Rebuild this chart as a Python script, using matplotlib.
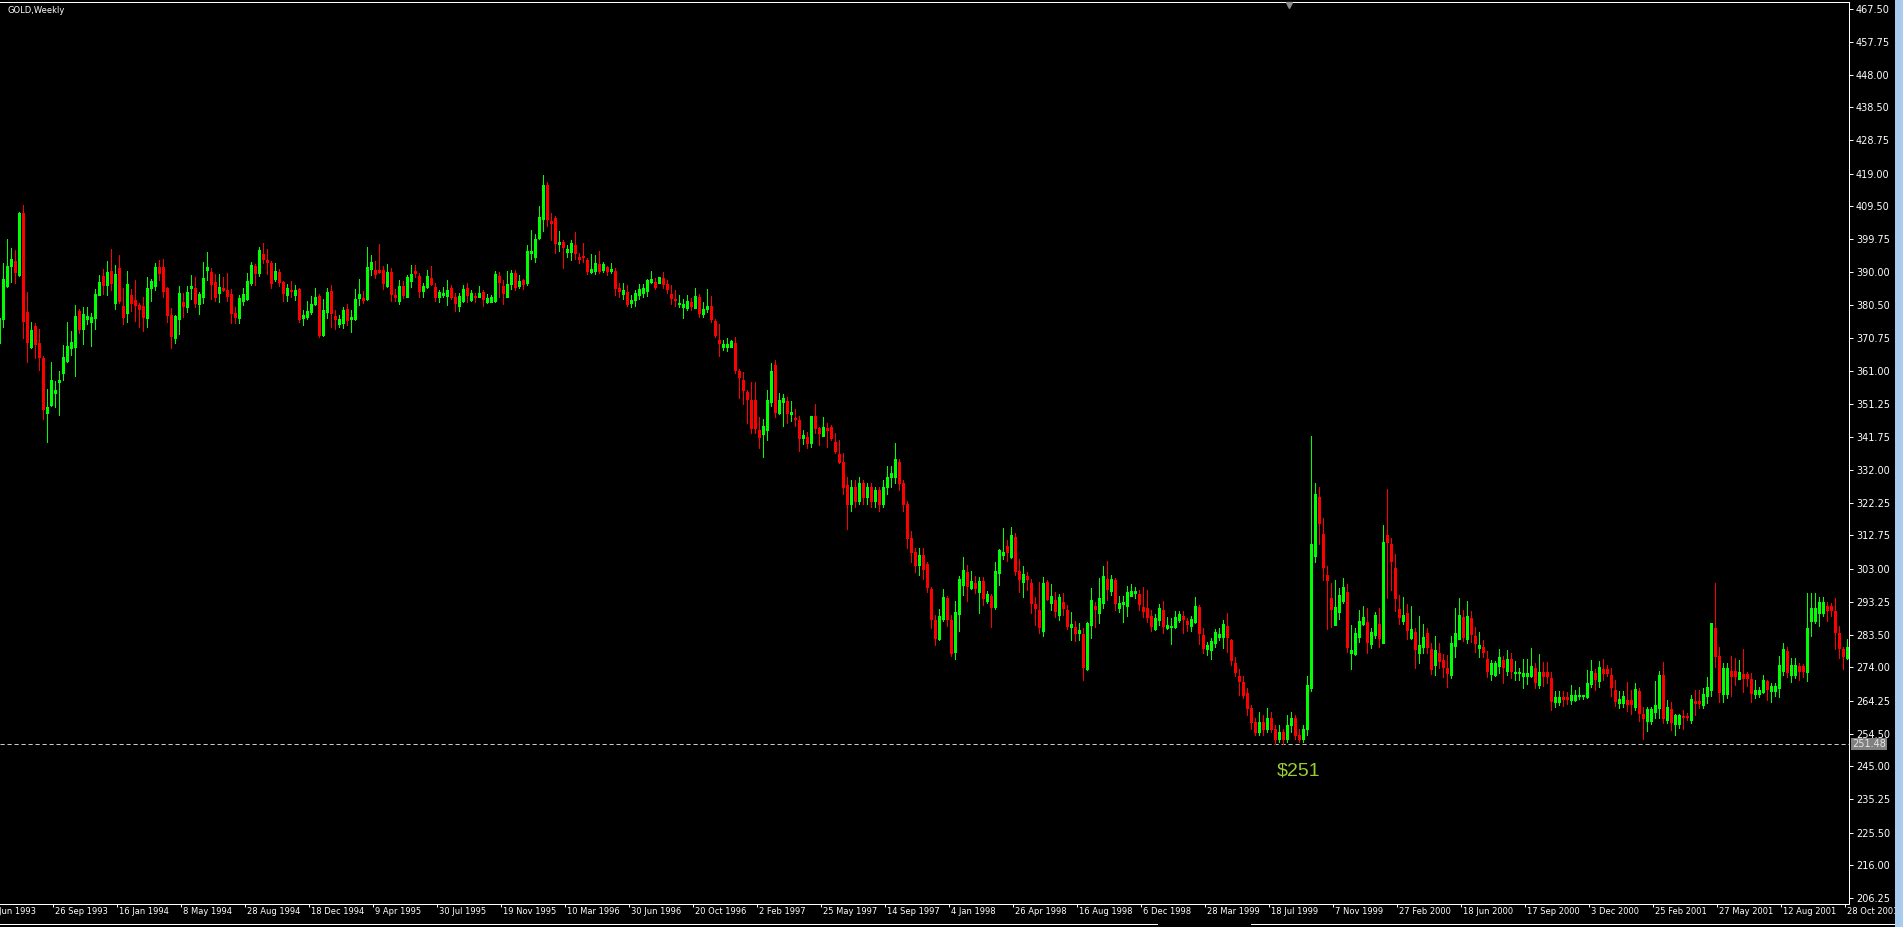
import numpy as np
import matplotlib
matplotlib.use("Agg")
import matplotlib.pyplot as plt
from matplotlib.lines import Line2D
from matplotlib.patches import Rectangle
import matplotlib.transforms as mtransforms

# Weekly GOLD bars, (open, high, low, close), left to right.
block1 = [
    (369.4, 378.0, 367.0, 376.5),
    (376.4, 392.7, 373.9, 388.0), (386.1, 399.8, 385.8, 391.8), (392.0, 397.1, 387.3, 393.8),
    (393.2, 396.6, 387.0, 390.0), (389.2, 407.6, 388.9, 407.3), (407.3, 409.8, 370.8, 375.8),
    (378.3, 384.2, 363.8, 369.7), (368.0, 375.3, 367.9, 373.0), (374.3, 375.1, 365.0, 368.9),
    (369.2, 373.4, 361.3, 365.2), (364.8, 365.4, 346.8, 349.8), (348.8, 355.8, 340.3, 350.4),
    (351.1, 363.7, 350.8, 358.4), (354.7, 358.2, 350.4, 355.5), (357.9, 361.1, 348.1, 358.5),
    (360.4, 368.7, 358.4, 365.1), (364.0, 375.4, 363.8, 368.4), (367.9, 372.8, 365.7, 369.5),
    (368.2, 380.4, 359.6, 377.2), (378.6, 379.2, 372.3, 373.3), (373.3, 379.7, 369.0, 377.8),
    (376.4, 379.8, 374.8, 377.2), (375.5, 378.0, 368.4, 376.8), (376.7, 385.1, 373.5, 383.7),
    (383.5, 389.2, 383.4, 387.1), (388.9, 391.0, 383.7, 386.2), (386.3, 393.3, 383.4, 390.0),
    (390.3, 396.9, 384.9, 387.0), (381.0, 392.2, 379.2, 389.5), (391.2, 395.0, 381.0, 381.7),
    (380.1, 385.3, 374.8, 377.0), (378.2, 390.4, 375.4, 386.5), (383.3, 385.1, 378.8, 381.0),
    (381.8, 387.8, 375.7, 380.3), (380.4, 381.1, 374.1, 379.2), (380.1, 382.9, 372.8, 377.0),
    (376.7, 388.6, 374.1, 385.4), (385.5, 388.1, 381.6, 387.5), (386.1, 392.7, 384.8, 391.5),
    (391.5, 393.6, 387.8, 389.7), (391.5, 393.9, 382.9, 384.6), (385.3, 385.6, 375.4, 377.6),
    (377.4, 379.4, 367.9, 371.4), (370.8, 377.4, 369.4, 377.2), (376.4, 386.0, 371.9, 383.8),
    (381.2, 383.8, 376.9, 380.2), (379.9, 386.0, 378.4, 384.1), (385.4, 389.1, 382.1, 386.0),
    (385.3, 388.5, 379.7, 380.9), (380.8, 384.2, 377.8, 383.6), (382.9, 393.0, 381.1, 388.3),
    (390.8, 395.9, 387.8, 391.5), (390.0, 391.4, 382.2, 386.5), (387.1, 389.4, 381.5, 382.9),
    (384.0, 389.4, 381.4, 385.6), (385.4, 388.5, 384.6, 384.7), (384.9, 389.7, 381.7, 383.2),
    (383.6, 385.1, 375.0, 378.0),
]
block2 = [
    (378.0, 379.7, 375.2, 376.8), (376.7, 383.4, 375.2, 382.4), (381.6, 385.3, 380.4, 383.7),
    (382.2, 389.7, 381.9, 387.5), (386.8, 393.0, 386.3, 392.2), (391.9, 392.4, 386.3, 389.7),
    (389.9, 397.4, 388.8, 396.6), (395.4, 398.5, 392.7, 393.9), (393.6, 396.8, 389.4, 393.1),
    (392.7, 393.4, 385.3, 387.0), (388.1, 392.7, 387.5, 390.4), (390.0, 390.9, 386.0, 387.3),
    (387.1, 387.5, 381.6, 383.9), (383.4, 386.5, 381.6, 385.3), (384.8, 387.5, 382.9, 384.6),
    (383.4, 386.3, 381.9, 384.8), (385.0, 385.5, 375.5, 376.2), (376.7, 379.0, 374.5, 377.5),
    (376.9, 381.6, 376.2, 378.7), (378.5, 383.1, 377.7, 380.7), (380.6, 385.3, 380.4, 382.7),
    (383.1, 383.7, 370.9, 371.6), (371.6, 382.2, 371.3, 379.0), (378.5, 385.3, 376.5, 384.2),
    (384.4, 386.3, 373.9, 378.2), (377.3, 379.0, 373.3, 376.2), (374.8, 377.5, 374.1, 376.2),
    (375.2, 379.7, 373.6, 379.0), (379.2, 380.7, 374.5, 376.0), (376.2, 379.0, 372.6, 376.9),
    (376.3, 385.1, 376.0, 382.2), (382.6, 388.1, 380.4, 383.6), (382.6, 384.5, 380.9, 381.9),
    (382.1, 397.4, 381.9, 391.6), (391.1, 395.1, 389.2, 393.1), (390.6, 393.2, 388.3, 389.4),
    (390.7, 398.3, 389.9, 390.2), (390.6, 392.0, 385.0, 387.0), (386.1, 392.5, 385.8, 390.0),
    (390.0, 391.2, 381.6, 383.6), (383.4, 385.0, 381.6, 382.9), (381.7, 387.8, 380.7, 386.0),
    (386.0, 387.5, 382.6, 383.4), (382.9, 389.2, 382.7, 388.6), (387.6, 392.2, 385.8, 389.5),
    (390.4, 392.2, 388.6, 389.7), (389.0, 389.9, 382.9, 384.4), (384.4, 386.8, 382.7, 386.0),
    (385.6, 390.7, 385.3, 389.0), (388.3, 391.9, 386.3, 386.5), (385.6, 386.8, 381.6, 382.9),
    (382.9, 384.8, 381.2, 384.1), (383.4, 385.8, 382.7, 383.9), (383.1, 387.8, 380.4, 384.8),
    (385.3, 386.3, 382.2, 382.9), (382.7, 383.9, 378.8, 380.9), (380.2, 383.9, 378.8, 383.1),
    (381.6, 386.3, 381.4, 385.1),
]
block3 = [
    (385.3, 386.8, 381.4, 383.4), (381.9, 384.8, 381.7, 383.8), (383.1, 383.9, 381.4, 382.9),
    (382.9, 386.0, 382.7, 383.8), (384.1, 384.8, 380.2, 382.1), (381.4, 383.6, 381.1, 382.4),
    (381.4, 383.4, 381.4, 382.7), (381.7, 390.4, 381.4, 389.4), (388.8, 390.0, 382.9, 387.3),
    (386.1, 387.8, 380.7, 383.9), (382.9, 390.4, 382.9, 386.5), (386.5, 390.7, 385.1, 389.9),
    (389.7, 390.7, 384.8, 385.8), (386.1, 389.2, 385.3, 387.5), (387.8, 388.2, 385.1, 386.5),
    (386.8, 398.0, 386.3, 396.3), (395.6, 402.4, 393.8, 396.3), (394.6, 401.3, 393.1, 399.7),
    (400.2, 409.5, 399.7, 406.2), (405.7, 418.6, 402.3, 415.7), (415.7, 416.4, 403.7, 405.7),
    (405.2, 407.3, 399.5, 404.6), (406.0, 406.6, 395.6, 398.5), (398.3, 402.2, 396.4, 399.0),
    (398.9, 399.5, 391.2, 397.4), (396.1, 398.0, 394.6, 396.8), (396.1, 399.5, 393.6, 398.5),
    (397.9, 401.8, 393.8, 395.6), (394.6, 395.8, 392.7, 393.8), (394.9, 398.5, 393.1, 394.6),
    (393.6, 394.1, 389.5, 390.5), (390.2, 395.3, 389.7, 391.0), (390.4, 395.1, 389.5, 392.7),
    (392.6, 396.3, 389.9, 390.5), (390.7, 393.1, 390.2, 392.4), (391.5, 391.9, 389.2, 390.4),
    (390.4, 392.7, 389.7, 391.1), (390.4, 391.2, 383.4, 385.5), (385.5, 386.8, 382.9, 384.5),
    (383.7, 386.8, 382.1, 384.8), (384.2, 386.3, 380.1, 380.6), (380.9, 383.4, 379.9, 381.9),
    (381.9, 384.8, 380.2, 383.8), (383.4, 386.5, 382.2, 385.1), (383.8, 386.5, 382.9, 385.3),
    (384.5, 388.1, 383.2, 387.8), (387.2, 390.4, 387.0, 388.0), (387.3, 388.3, 385.1, 385.6),
    (387.0, 388.7, 386.8, 388.5), (388.3, 390.0, 385.3, 386.6), (386.5, 387.8, 384.0, 385.1),
    (383.7, 386.3, 380.7, 382.6), (382.1, 384.8, 380.2, 381.9), (380.7, 383.5, 379.9, 381.1),
    (379.7, 382.1, 376.7, 380.7), (379.4, 383.4, 379.1, 381.6), (381.2, 382.4, 378.9, 380.1),
    (379.4, 385.3, 379.4, 383.1),
]
block4 = [
    (382.7, 383.6, 376.8, 378.0), (377.7, 381.3, 377.0, 379.2), (379.3, 385.1, 378.5, 380.1),
    (380.1, 383.1, 375.3, 376.2), (375.7, 376.2, 371.1, 371.6), (370.1, 374.8, 365.5, 369.2),
    (368.0, 370.1, 367.2, 369.0), (368.0, 370.6, 367.0, 369.0), (368.2, 370.1, 368.0, 369.9),
    (369.2, 370.9, 360.4, 361.3), (361.0, 361.6, 353.0, 359.2), (358.4, 360.8, 351.4, 355.6),
    (355.0, 355.6, 345.9, 352.7), (352.5, 357.9, 342.9, 344.2), (352.5, 357.9, 342.9, 344.2),
    (343.7, 347.4, 338.5, 341.7), (342.4, 346.9, 335.9, 344.9), (343.7, 355.5, 340.8, 352.5),
    (352.0, 363.5, 350.9, 361.0), (362.7, 364.3, 347.6, 349.1), (348.8, 354.7, 348.4, 352.5),
    (352.0, 354.2, 345.0, 353.0), (352.2, 353.3, 345.7, 348.8), (348.4, 352.2, 346.4, 349.1),
    (347.3, 349.9, 345.0, 346.9), (346.6, 347.8, 337.4, 341.5), (341.3, 343.7, 339.6, 342.2),
    (341.8, 343.0, 338.3, 339.8), (339.8, 347.8, 338.8, 347.8), (347.8, 351.3, 342.9, 344.2),
    (344.2, 344.7, 339.3, 342.7), (342.0, 347.4, 342.0, 344.7), (344.2, 345.7, 338.8, 343.7),
    (344.5, 345.2, 340.8, 341.3), (340.3, 342.7, 336.9, 337.6), (336.6, 340.8, 333.9, 334.4),
    (334.4, 336.9, 325.0, 327.0), (327.5, 330.0, 314.5, 322.0), (322.0, 329.0, 320.0, 327.0),
    (327.0, 329.0, 321.0, 323.0), (323.0, 330.0, 322.0, 328.0), (328.0, 329.0, 322.0, 324.0),
    (324.0, 328.0, 322.0, 327.0), (327.0, 328.0, 321.0, 323.0), (323.0, 327.0, 321.0, 326.0),
    (326.0, 327.0, 320.0, 322.0), (322.0, 329.0, 321.0, 327.0), (327.0, 333.0, 325.0, 330.0),
    (330.0, 333.0, 327.0, 331.0), (330.0, 340.0, 328.0, 335.2), (334.4, 335.2, 326.0, 328.0),
    (328.0, 329.0, 320.0, 322.0), (322.0, 323.0, 309.0, 312.0), (312.0, 314.0, 305.0, 308.0),
    (308.0, 309.0, 302.0, 304.0), (304.0, 309.0, 301.0, 307.0), (307.0, 309.0, 300.0, 303.0),
    (304.4, 305.0, 296.0, 297.5),
]
block5 = [
    (297.0, 297.7, 285.5, 288.2), (287.9, 289.4, 280.6, 282.7), (282.3, 291.0, 282.0, 289.1),
    (288.2, 297.0, 287.6, 294.6), (294.3, 294.9, 286.2, 288.2), (287.9, 289.4, 277.3, 278.3),
    (278.6, 293.5, 276.5, 290.2), (289.7, 300.8, 284.7, 300.0), (298.2, 306.5, 295.2, 302.6),
    (301.9, 304.0, 293.5, 298.0), (297.4, 302.3, 297.0, 299.4), (298.7, 300.8, 295.7, 297.2),
    (296.2, 300.4, 290.0, 299.4), (299.4, 300.4, 292.3, 294.5), (293.5, 296.5, 292.8, 295.6),
    (295.0, 295.6, 286.0, 291.8), (291.8, 304.8, 291.1, 302.3), (301.8, 308.8, 298.2, 308.5),
    (307.0, 315.0, 305.7, 307.8), (309.6, 311.4, 305.3, 307.8), (306.5, 315.3, 306.2, 312.9),
    (312.2, 313.6, 301.2, 302.3), (302.3, 305.7, 296.2, 299.9), (299.2, 303.8, 294.7, 301.4),
    (300.8, 301.9, 296.7, 299.9), (298.7, 299.9, 290.1, 293.0), (292.6, 294.6, 286.4, 291.5),
    (290.8, 299.0, 284.2, 286.0), (284.8, 300.4, 283.2, 298.7), (299.0, 299.7, 293.8, 294.0),
    (292.8, 298.4, 290.9, 295.0), (293.8, 296.0, 288.9, 290.7), (289.4, 295.5, 287.9, 294.6),
    (293.1, 295.7, 289.4, 291.3), (290.8, 292.3, 285.3, 286.2), (286.0, 290.4, 282.0, 286.7),
    (285.8, 287.6, 281.6, 284.0), (284.0, 286.9, 281.9, 285.0), (283.7, 285.5, 270.3, 274.2),
    (273.5, 287.4, 273.2, 286.9), (286.4, 297.2, 282.5, 293.7), (292.1, 293.3, 286.0, 291.1),
    (290.0, 300.1, 286.9, 294.3), (292.8, 303.8, 291.3, 300.8), (299.9, 305.2, 293.8, 296.9),
    (296.5, 301.1, 295.3, 299.9), (299.7, 300.1, 290.9, 292.8), (291.3, 294.9, 290.4, 292.8),
    (292.6, 294.9, 287.4, 293.3), (292.1, 297.9, 289.1, 296.2), (295.0, 298.5, 295.0, 296.4),
    (295.7, 297.5, 294.5, 296.4), (295.5, 296.7, 290.9, 292.5), (291.6, 297.5, 288.9, 290.7),
    (291.3, 296.7, 287.4, 288.9), (289.2, 290.8, 284.8, 286.2), (285.3, 289.7, 285.0, 288.4),
    (287.9, 292.6, 286.5, 291.3),
]
block6 = [
    (290.8, 293.5, 284.0, 286.1), (285.7, 288.7, 285.2, 286.4), (286.0, 288.6, 280.9, 286.2),
    (286.0, 290.6, 285.7, 288.7), (288.0, 290.6, 287.4, 289.6), (289.0, 290.7, 284.0, 288.1),
    (287.6, 288.6, 284.7, 286.7), (286.1, 289.2, 284.7, 288.1), (287.4, 294.6, 286.9, 292.0),
    (291.6, 292.3, 280.9, 284.2), (283.5, 285.7, 278.1, 279.8), (279.4, 281.5, 277.6, 280.6),
    (279.1, 282.5, 276.5, 281.7), (281.3, 285.3, 280.1, 284.3), (283.0, 285.7, 282.0, 283.7),
    (282.8, 287.9, 279.8, 286.6), (286.1, 289.9, 278.6, 282.8), (282.0, 282.3, 274.7, 276.2),
    (275.2, 277.1, 271.5, 272.7), (271.5, 273.5, 266.0, 270.0), (269.6, 271.6, 265.0, 266.0),
    (266.5, 267.8, 260.0, 262.0), (262.0, 263.0, 256.0, 258.0), (258.0, 259.0, 254.0, 255.0),
    (255.0, 261.0, 254.0, 258.0), (258.0, 260.0, 254.0, 256.0), (256.0, 262.0, 255.0, 259.0),
    (259.0, 261.0, 255.0, 256.0), (256.0, 257.0, 251.5, 253.0), (253.0, 257.0, 252.0, 255.0),
    (255.0, 256.0, 251.5, 253.0), (253.0, 260.0, 252.0, 257.0), (257.0, 261.0, 255.0, 259.0),
    (259.0, 260.0, 253.0, 254.0), (254.0, 256.0, 252.0, 253.0), (253.0, 257.0, 252.0, 256.0),
    (256.0, 271.5, 254.0, 268.8), (268.0, 342.0, 267.0, 310.2), (306.8, 328.0, 305.0, 325.0),
    (324.0, 327.0, 310.2, 316.3), (313.2, 318.0, 299.7, 303.6), (301.1, 303.8, 285.3, 299.7),
    (294.3, 298.7, 285.8, 291.1), (286.4, 299.7, 286.4, 291.6), (290.4, 297.2, 288.2, 295.3),
    (293.6, 300.1, 293.0, 297.5), (296.0, 298.5, 278.6, 280.1), (278.1, 286.4, 273.5, 279.1),
    (277.9, 285.5, 277.6, 284.0), (283.0, 290.8, 281.5, 287.6), (286.7, 292.0, 286.4, 288.7),
    (287.2, 291.3, 278.3, 281.5), (280.9, 285.7, 279.8, 284.3), (283.5, 290.2, 282.5, 289.4),
    (286.7, 291.5, 280.1, 282.5), (281.3, 315.8, 281.3, 310.7), (312.9, 326.5, 294.3, 310.9),
    (310.2, 312.0, 296.7, 305.3),
]
block7 = [
    (303.1, 307.3, 290.6, 294.3), (291.0, 295.3, 286.6, 288.7), (287.7, 294.6, 286.6, 289.4),
    (289.9, 292.6, 282.2, 285.0), (282.5, 292.0, 282.2, 285.2), (284.3, 285.7, 273.7, 279.3),
    (278.1, 289.1, 275.2, 280.6), (279.9, 286.7, 278.3, 282.8), (284.0, 285.5, 278.1, 280.1),
    (279.3, 281.1, 272.1, 273.4), (274.7, 283.2, 271.8, 279.1), (278.3, 281.1, 273.7, 276.0),
    (276.2, 277.9, 271.3, 274.2), (273.7, 277.6, 268.3, 272.4), (271.8, 283.2, 270.8, 281.1),
    (280.4, 291.3, 277.1, 284.0), (282.3, 294.3, 282.3, 289.4), (288.7, 290.8, 281.8, 283.0),
    (282.3, 293.5, 281.2, 289.1), (288.4, 290.5, 281.5, 283.7), (283.2, 285.9, 278.6, 281.1),
    (279.8, 284.5, 276.9, 280.6), (279.9, 282.0, 276.9, 278.6), (276.6, 278.8, 271.3, 273.0),
    (272.0, 276.2, 270.3, 275.2), (271.9, 276.0, 271.5, 275.2), (274.5, 279.4, 272.2, 277.0),
    (276.2, 277.3, 269.5, 274.2), (273.0, 279.1, 271.8, 276.6), (276.4, 278.1, 270.8, 273.0),
    (272.2, 275.9, 270.3, 272.6), (272.2, 273.7, 270.3, 272.5), (271.6, 276.4, 268.0, 272.2),
    (271.6, 276.4, 269.1, 272.2), (271.6, 279.6, 271.3, 274.4), (273.7, 275.2, 268.0, 269.6),
    (268.8, 277.9, 268.0, 272.5), (272.5, 275.5, 268.5, 271.6), (272.5, 275.5, 269.3, 271.6),
    (270.8, 272.5, 261.5, 264.2), (263.9, 267.1, 262.5, 265.4), (263.9, 267.1, 263.0, 265.4),
    (265.4, 267.1, 262.7, 264.6), (265.4, 266.7, 263.2, 264.6), (264.4, 268.8, 263.2, 265.9),
    (264.4, 267.4, 264.2, 265.9), (265.7, 268.3, 264.6, 265.9), (265.7, 265.9, 264.6, 265.9),
    (265.4, 273.2, 264.9, 269.3), (269.1, 276.2, 268.3, 272.9), (272.2, 273.5, 267.4, 270.5),
    (270.1, 275.9, 268.3, 274.0), (273.5, 276.4, 270.3, 272.2), (273.5, 274.7, 271.5, 272.2),
    (271.9, 273.9, 265.7, 268.1), (267.5, 270.3, 262.7, 264.2), (263.6, 267.1, 262.0, 264.6),
    (263.5, 267.1, 262.5, 265.5),
]
block8 = [
    (264.4, 269.8, 261.2, 263.2), (264.4, 267.4, 260.2, 263.2), (262.5, 269.3, 261.5, 267.6),
    (267.1, 268.0, 258.2, 260.5), (260.2, 262.3, 253.0, 259.0), (258.2, 262.5, 255.3, 261.8),
    (258.2, 262.5, 257.3, 261.8), (261.0, 270.0, 259.2, 263.0), (262.2, 272.9, 259.2, 271.8),
    (271.8, 275.5, 257.6, 259.0), (258.5, 264.4, 257.6, 262.3), (261.7, 263.7, 255.6, 257.9),
    (257.4, 260.2, 254.0, 260.0), (257.4, 260.2, 256.3, 260.0), (259.8, 261.5, 255.8, 259.3),
    (259.8, 260.5, 258.6, 259.3), (258.6, 265.9, 257.6, 264.6), (264.1, 267.4, 260.0, 263.4),
    (264.1, 267.4, 262.0, 263.4), (262.9, 267.9, 262.2, 266.1), (265.6, 271.1, 263.6, 268.3),
    (267.4, 287.1, 265.7, 287.1), (285.5, 298.9, 274.0, 277.4), (277.3, 279.9, 263.9, 266.9),
    (266.2, 275.2, 263.9, 273.9), (266.2, 275.2, 265.1, 273.9), (272.9, 277.3, 265.7, 271.6),
    (272.9, 276.8, 268.8, 271.6), (270.6, 276.2, 270.5, 272.5), (272.0, 279.4, 266.9, 270.8),
    (272.0, 272.6, 268.5, 270.8), (270.6, 272.3, 263.9, 266.4), (266.2, 270.3, 264.9, 267.4),
    (266.2, 268.3, 265.4, 267.4), (266.7, 271.9, 266.4, 270.3), (270.0, 270.3, 264.4, 267.6),
    (267.2, 269.3, 263.7, 268.5), (267.2, 269.3, 265.7, 268.5), (268.0, 277.3, 265.4, 274.7),
    (273.0, 281.3, 271.9, 279.4), (278.8, 279.9, 271.3, 272.7), (271.8, 276.7, 269.8, 274.7),
    (271.8, 276.7, 271.0, 274.7), (274.4, 275.2, 270.3, 273.0), (274.4, 274.9, 271.3, 273.0),
    (272.7, 295.9, 270.0, 285.5), (287.6, 295.9, 283.3, 291.3), (287.6, 295.9, 286.9, 291.3),
    (290.1, 294.6, 286.2, 293.1), (290.1, 294.6, 289.1, 293.1), (292.0, 293.3, 287.7, 290.8),
    (292.0, 292.8, 289.1, 290.8), (290.5, 294.3, 279.4, 284.5), (284.0, 286.2, 276.8, 279.6),
    (279.4, 279.9, 273.5, 277.2), (276.7, 282.3, 276.4, 280.0),
]

x_labels = ["6 Jun 1993", "26 Sep 1993", "16 Jan 1994", "8 May 1994", "28 Aug 1994",
            "18 Dec 1994", "9 Apr 1995", "30 Jul 1995", "19 Nov 1995", "10 Mar 1996",
            "30 Jun 1996", "20 Oct 1996", "2 Feb 1997", "25 May 1997", "14 Sep 1997",
            "4 Jan 1998", "26 Apr 1998", "16 Aug 1998", "6 Dec 1998", "28 Mar 1999",
            "18 Jul 1999", "7 Nov 1999", "27 Feb 2000", "18 Jun 2000", "17 Sep 2000",
            "3 Dec 2000", "25 Feb 2001", "27 May 2001", "12 Aug 2001", "28 Oct 2001"]
label_step = 16          # bars between date labels
label_first = -3.5       # bar position of the first label tick
y_ticks = [467.50, 457.75, 448.00, 438.50, 428.75, 419.00, 409.50, 399.75, 390.00,
           380.50, 370.75, 361.00, 351.25, 341.75, 332.00, 322.25, 312.75, 303.00,
           293.25, 283.50, 274.00, 264.25, 254.50, 245.00, 235.25, 225.50, 216.00, 206.25]
line_price = 251.48
low_text = "$251"
low_text_pos = (323.7, 243.6)
title = "GOLD,Weekly"

bars = np.array(block1 + block2 + block3 + block4 + block5 + block6 + block7 + block8)
opens, highs, lows, closes = bars.T
xs = np.arange(len(bars)) - 1

W, H = 1903, 927
fig = plt.figure(figsize=(W / 100, H / 100), dpi=100, facecolor="black")
ax = fig.add_axes([0, 23 / H, 1849 / W, 902.5 / H])
ax.set_facecolor("black")

up = closes >= opens
colors = np.where(up, "#00ff00", "#ff0000")
px = 0.72  # one pixel in points
ax.vlines(xs, lows, highs, colors=colors, linewidth=px, antialiased=False, zorder=2)
ax.bar(xs, np.abs(closes - opens), bottom=np.minimum(opens, closes), width=0.5,
       color=colors, edgecolor=colors, linewidth=px, antialiased=False, zorder=3)

ax.axhline(line_price, color="#c8c8c8", linewidth=px, dashes=(4.2, 2.8), zorder=1)

for s in ["top", "right", "bottom"]:
    ax.spines[s].set_color("white")
    ax.spines[s].set_linewidth(px)
ax.spines["left"].set_visible(False)

ax.yaxis.tick_right()
ax.set_yticks(y_ticks)
ax.set_yticklabels([f"{v:.2f}" for v in y_ticks])
ax.tick_params(axis="y", colors="white", length=3, width=px, pad=2, labelsize=7)

tick_pos = [label_first + label_step * k for k in range(len(x_labels))]
ax.set_xticks(tick_pos)
ax.set_xticklabels([])
ax.tick_params(axis="x", colors="white", length=2.5, width=px, direction="out")

# limits after the ticks, so the ticks cannot widen the view
ax.set_xlim(-0.833, 461.42)
ax.set_ylim(204.505, 469.556)

blend = mtransforms.blended_transform_factory(ax.transData, ax.transAxes)
lab_tr = mtransforms.offset_copy(blend, fig=fig, x=2, y=-3, units="dots")
for pos, lab in zip(tick_pos, x_labels):
    ax.text(pos, 0, lab, transform=lab_tr, ha="left", va="top", color="white",
            fontsize=6, clip_on=False)

# current-price box on the axis
yblend = mtransforms.blended_transform_factory(ax.transAxes, ax.transData)
box_tr = mtransforms.offset_copy(yblend, fig=fig, x=3, y=0, units="dots")
ax.text(1.0, line_price, f"{line_price:.2f}", transform=box_tr, ha="left", va="center",
        color="#e6e6e6", fontsize=7, clip_on=False, zorder=6,
        bbox=dict(boxstyle="square,pad=0.12", fc="#808080", ec="none"))

ax.text(low_text_pos[0], low_text_pos[1], low_text, color="#9acd32", fontsize=14,
        ha="center", va="center", family=["Liberation Sans", "DejaVu Sans"])

ax.plot([1289 / 1849], [1.0 - 3 / 902.5], marker="v", color="#8c8c8c", ms=4,
        transform=ax.transAxes, clip_on=False, zorder=6)

fig.text(7 / W, 1 - 6 / H, title, color="white", fontsize=6, ha="left", va="top")

# window chrome: scrollbar strip and bottom tab outlines
fig.patches.append(Rectangle((1895 / W, 0), 8 / W, 1, transform=fig.transFigure,
                             facecolor="#a9cbee", edgecolor="none", zorder=10))
fig.lines.append(Line2D([0, 1157 / W], [1 - 924 / H] * 2, transform=fig.transFigure,
                        color="white", linewidth=px, zorder=10))
fig.lines.append(Line2D([1251 / W, 1], [1 - 924 / H] * 2, transform=fig.transFigure,
                        color="white", linewidth=px, zorder=10))

fig.savefig("out.png", dpi=100, facecolor="black")
